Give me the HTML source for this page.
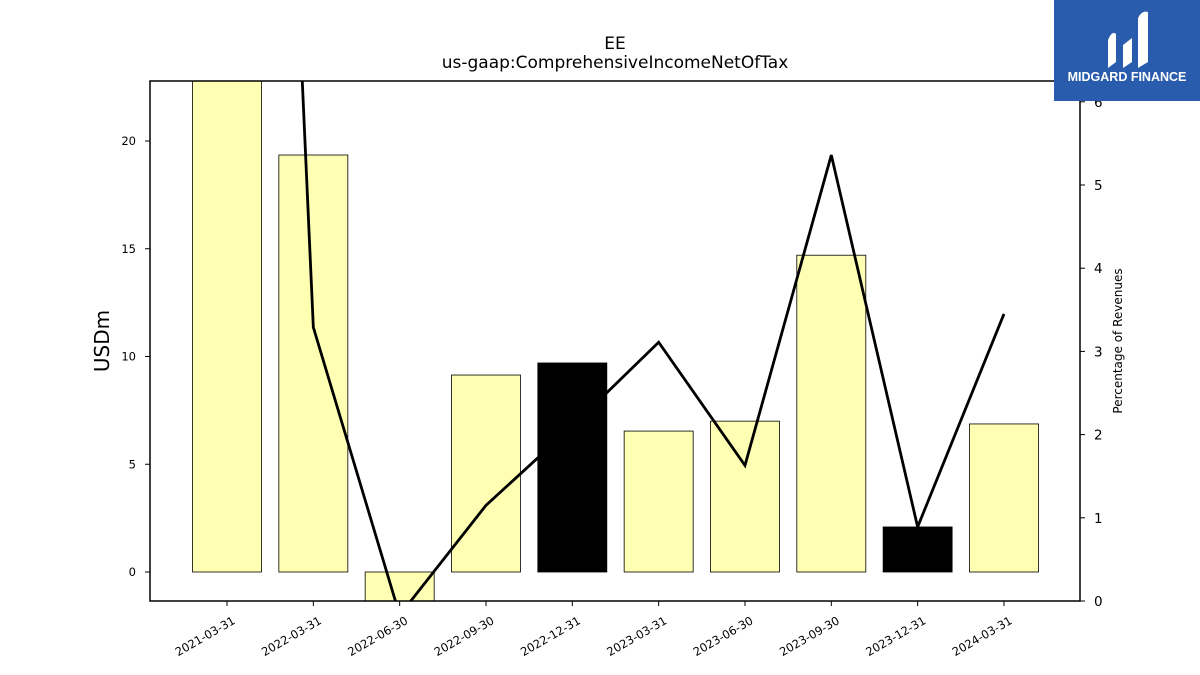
<!DOCTYPE html>
<html><head><meta charset="utf-8"><style>
body{margin:0;background:#fff;font-family:"Liberation Sans","DejaVu Sans",sans-serif}
svg{display:block}
</style></head><body>
<svg id="chart" width="1200" height="675" xmlns="http://www.w3.org/2000/svg" font-family="DejaVu Sans, Liberation Sans, sans-serif">
<text x="615" y="49" text-anchor="middle" font-size="17">EE</text>
<text x="615" y="68" text-anchor="middle" font-size="17">us-gaap:ComprehensiveIncomeNetOfTax</text>
<defs><clipPath id="plotclip"><rect x="150" y="81" width="930" height="520"/></clipPath></defs>
<g id="bars" clip-path="url(#plotclip)"></g>
<g id="line" clip-path="url(#plotclip)"></g>
<rect x="150" y="81" width="930" height="520" fill="none" stroke="#000" stroke-width="1.5"/>
<g id="xaxis"></g><g id="yaxis"></g><g id="y2axis"></g>
<text transform="translate(109,341) rotate(-90)" text-anchor="middle" font-size="20">USDm</text>
<text transform="translate(1122,341) rotate(-90)" text-anchor="middle" font-size="12">Percentage of Revenues</text>
<g>
<rect x="1054" y="0" width="146" height="101" fill="#2a5cad"/>
<path d="M1108 68 L1108 40 Q1112 30 1116 34 L1116 62 Z M1123 68 L1123 45 L1132 38 L1132 62 Z M1138 68 L1138 18 Q1142 10 1148 12 L1148 62 Z" fill="#fff"/>
<text x="1127" y="81" text-anchor="middle" font-size="12.5" font-weight="bold" fill="#fff" font-family="Liberation Sans, sans-serif">MIDGARD FINANCE</text>
</g>
</svg>
<script>
const categories=["2021-03-31","2022-03-31","2022-06-30","2022-09-30","2022-12-31","2023-03-31","2023-06-30","2023-09-30","2023-12-31","2024-03-31"];
const barValues=[23.5,19.35,-1.5,9.14,9.7,6.54,7.0,14.7,2.09,6.87];
const barColors=["#ffffb3","#ffffb3","#ffffb3","#ffffb3","#000000","#ffffb3","#ffffb3","#ffffb3","#000000","#ffffb3"];
const pctValues=[26.4,3.29,-0.17,1.15,2.1,3.11,1.63,5.36,0.89,3.45];
const yTicks=[0,5,10,15,20];
const y2Ticks=[0,1,2,3,4,5,6];
const NS="http://www.w3.org/2000/svg";
const xS=i=>227+86.33*i;
const yS=v=>572-21.55*v;
const y2S=v=>601-83.2*v;
function mk(t,a,p){const e=document.createElementNS(NS,t);for(const k in a)e.setAttribute(k,a[k]);p.appendChild(e);return e;}
const gb=document.getElementById('bars');
barValues.forEach((v,i)=>{const y0=yS(0),y1=yS(v);
const r=mk('rect',{x:xS(i)-34.5,y:Math.min(y0,y1),width:69,height:Math.abs(y1-y0),fill:barColors[i],stroke:"#000","stroke-width":0.8},gb);

});
const gl=document.getElementById('line');
const pl=mk('polyline',{points:pctValues.map((v,i)=>xS(i)+","+y2S(v)).join(" "),fill:"none",stroke:"#000","stroke-width":2.8},gl);


const gx=document.getElementById('xaxis');
categories.forEach((c,i)=>{const x=xS(i);
mk('line',{x1:x,x2:x,y1:601,y2:606,stroke:"#000"},gx);
const t=mk('text',{transform:`translate(${x+5},${616}) rotate(-30)`,"text-anchor":"end","font-size":11.5,dy:"0.7em"},gx);
t.textContent=c;

});
const gy=document.getElementById('yaxis');
yTicks.forEach(v=>{const y=yS(v);
mk('line',{x1:145,x2:150,y1:y,y2:y,stroke:"#000"},gy);
const t=mk('text',{x:136,y:y+4,"text-anchor":"end","font-size":11.5},gy);
t.textContent=v;

});
const gy2=document.getElementById('y2axis');
y2Ticks.forEach(v=>{const y=y2S(v);
mk('line',{x1:1080,x2:1085,y1:y,y2:y,stroke:"#000"},gy2);
const t=mk('text',{x:1094,y:y+5,"font-size":13.5},gy2);
t.textContent=v;

});
</script>
</body></html>
